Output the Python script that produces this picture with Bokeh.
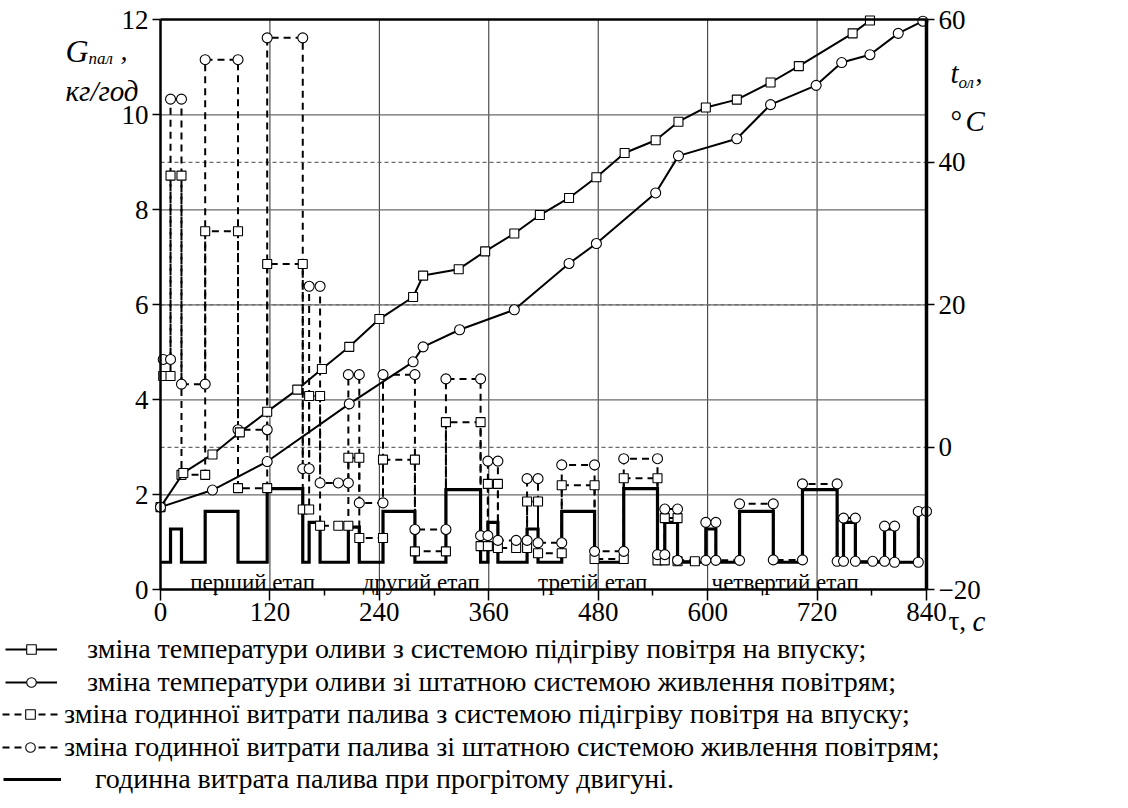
from bokeh.plotting import figure
from bokeh.models import Range1d, LinearAxis, FixedTicker, Legend, LegendItem
from bokeh.core.properties import value
from bokeh.embed import file_html
from bokeh.resources import INLINE

SERIF = "Liberation Serif"

# ---- axes ----
time_ticks = [0, 120, 240, 360, 480, 600, 720, 840]
time_minor = [60, 180, 300, 420, 540, 660, 780]
fuel_ticks = [0, 2, 4, 6, 8, 10, 12]
temp_ticks = [-20, 0, 20, 40, 60]

# ---- oil temperature, °C ----
# with intake-air heating system (squares)
heat_temp_time = [0, 25, 57, 87, 117, 150, 177, 207, 240, 277, 288, 327, 356, 388,
                  416, 448, 478, 509, 543, 568, 598, 632, 669, 700, 759, 778]
heat_temp_val = [-8.4, -3.6, -1.0, 2.1, 5.0, 8.1, 11.0, 14.1, 18.0, 21.1, 24.1, 25.0,
                 27.5, 30.0, 32.6, 35.0, 37.9, 41.3, 43.1, 45.7, 47.7, 48.8, 51.2,
                 53.5, 58.1, 59.9]
# with the standard air supply system (circles)
std_temp_time = [0, 57, 117, 207, 277, 288, 328, 388, 448, 478, 543, 568, 632, 669,
                 719, 747, 778, 809, 836]
std_temp_val = [-8.4, -6.0, -2.0, 6.1, 12.0, 14.1, 16.5, 19.3, 25.8, 28.6, 35.7, 40.9,
                43.3, 48.1, 50.8, 54.0, 55.1, 58.1, 59.8]

# ---- hourly fuel consumption, kg/h ----
# boundaries of the load-cycle phases, s
phase_edges = [0, 11, 23, 49, 85, 117, 156, 163, 175, 206, 218, 244, 279, 313, 351,
               359, 370, 402, 414, 440, 476, 508, 545, 553, 567, 598, 609, 635, 672,
               704, 742, 749, 762, 794, 805, 831, 840]
# warmed-up engine
warm_fuel = [0.58, 1.28, 0.58, 1.65, 0.58, 2.13, 0.58, 1.42, 0.58, 1.32, 0.58, 1.65,
             0.58, 2.11, 0.58, 1.42, 0.58, 1.28, 0.58, 1.65, 0.58, 2.13, 0.58, 1.42,
             0.58, 1.28, 0.58, 1.65, 0.58, 2.11, 0.58, 1.42, 0.58, 1.28, 0.58, 1.65]
# with intake-air heating system
heat_fuel = [4.50, 8.72, 2.42, 7.55, 2.14, 6.86, 1.69, 4.08, 1.35, 2.78, 1.09, 2.74,
             0.81, 3.53, 0.92, 2.23, 0.88, 1.86, 0.77, 2.20, 0.65, 2.35, 0.62, 1.51,
             0.60]
heat_fuel_first = 3
heat_fuel_last = 586
# with the standard air supply system
std_fuel = [4.85, 10.33, 4.33, 11.16, 3.37, 11.62, 2.55, 6.39, 2.25, 4.53, 1.83, 4.53,
            1.27, 4.44, 1.14, 2.71, 1.04, 2.34, 0.99, 2.63, 0.81, 2.76, 0.74, 1.70,
            0.62, 1.42, 0.62, 1.81, 0.63, 2.23, 0.60, 1.51, 0.60, 1.34, 0.58, 1.65]
std_fuel_first = 3
# intermediate readings inside long idle phases
heat_mid_time = [195, 390]
heat_mid_fuel = [1.35, 0.88]
std_mid_time = [195, 390, 781]
std_mid_fuel = [2.25, 1.04, 0.60]

stage_names = ["перший етап", "другий етап", "третій етап", "четвертий етап"]
stage_centres = [101, 286, 474, 685]

legend_labels = [
    "зміна температури оливи з системою підігріву повітря на впуску;",
    "зміна температури оливи зі штатною системою живлення повітрям;",
    "зміна годинної витрати палива з системою підігріву повітря на впуску;",
    "зміна годинної витрати палива зі штатною системою живлення повітрям;",
    "годинна витрата палива при прогрітому двигуні.",
]

# ---- page geometry (pixels) ----
W, H = 1128, 808
FL, FR, FT, FB = 160, 926, 19.3, 589.3          # plotting area inside the page
T_MAX, G_MAX = time_ticks[-1], fuel_ticks[-1]
T_LO, T_HI = temp_ticks[0], temp_ticks[-1]
kx = (FR - FL) / T_MAX
ky = (FB - FT) / G_MAX
x_lo, x_hi = -FL / kx, T_MAX + (W - FR) / kx
y_lo, y_hi = -(H - FB) / ky, G_MAX + FT / ky
g2t = (T_HI - T_LO) / G_MAX


def at(px, py):
    """Page pixel position -> (time, fuel) coordinates."""
    return (px - FL) / kx, (FB - py) / ky


def step_path(edges, levels, first=None, last=None):
    """Vertices of a piecewise-constant series: one horizontal run per phase."""
    xs, ys = [], []
    for i, lv in enumerate(levels):
        x0, x1 = edges[i], edges[i + 1]
        if i == 0 and first is not None:
            x0 = first
        if last is not None:
            x1 = min(x1, last)
        xs += [x0, x1]
        ys += [lv, lv]
    return xs, ys


p = figure(width=W, height=H, output_backend="svg", toolbar_location=None, title=None,
           x_range=Range1d(x_lo, x_hi), y_range=Range1d(y_lo, y_hi),
           x_axis_location=None, y_axis_location=None,
           min_border=0, background_fill_color="white", border_fill_color="white")
p.extra_y_ranges = {"temp": Range1d(T_LO + y_lo * g2t, T_LO + y_hi * g2t)}
p.outline_line_color = None
p.grid.visible = False

# grid lines
p.segment(x0=time_ticks[1:-1], y0=0, x1=time_ticks[1:-1], y1=G_MAX,
          line_color="#2a2a2a", line_width=1)
p.segment(x0=0, y0=fuel_ticks[1:-1], x1=T_MAX, y1=fuel_ticks[1:-1],
          line_color="#6a6a6a", line_width=1.2)
p.segment(x0=0, y0=temp_ticks[1:-1], x1=T_MAX, y1=temp_ticks[1:-1], y_range_name="temp",
          line_color="#6a6a6a", line_width=1.2, line_dash="4 3")

# axes drawn at fixed positions of the plotting area
xa = LinearAxis(fixed_location=0, bounds=(0, T_MAX),
                ticker=FixedTicker(ticks=time_ticks, minor_ticks=time_minor))
ya = LinearAxis(fixed_location=0, bounds=(0, G_MAX), ticker=FixedTicker(ticks=fuel_ticks))
ra = LinearAxis(fixed_location=T_MAX, bounds=(T_LO, T_HI), y_range_name="temp",
                ticker=FixedTicker(ticks=temp_ticks))
ta = LinearAxis(fixed_location=G_MAX, bounds=(0, T_MAX), ticker=FixedTicker(ticks=[]),
                major_label_text_font_size="0px")
p.add_layout(xa, "below")
p.add_layout(ya, "left")
p.add_layout(ra, "right")
p.add_layout(ta, "above")
for ax in (xa, ya, ra, ta):
    ax.axis_line_color = "black"
    ax.axis_line_width = 2.5
    ax.major_tick_line_color = "black"
    ax.major_tick_line_width = 1.5
    ax.major_tick_in = 0
    ax.major_tick_out = 8
    ax.minor_tick_line_color = None
    ax.major_label_text_font = SERIF
    ax.major_label_text_font_size = "27px"
    ax.major_label_text_color = "black"
    ax.major_label_standoff = 4
ta.major_tick_line_color = None
ra.axis_line_width = 3.5
xa.major_tick_out = 11
xa.minor_tick_line_color = "black"
xa.minor_tick_line_width = 1.5
xa.minor_tick_in = 0
xa.minor_tick_out = 6
xa.major_label_standoff = 2

# warmed-up engine (thick step line)
wx, wy = step_path(phase_edges, warm_fuel)
r_warm = p.line(wx, wy, line_color="black", line_width=3.2, line_join="miter")

# fuel consumption during warm-up (dashed step lines with markers)
hx, hy = step_path(phase_edges, heat_fuel, heat_fuel_first, heat_fuel_last)
sx, sy = step_path(phase_edges, std_fuel, std_fuel_first)
r_hf_line = p.line(hx, hy, line_color="black", line_width=2, line_dash="7 5")
r_sf_line = p.line(sx, sy, line_color="black", line_width=2, line_dash="7 5")
r_hf_pts = p.scatter(hx + heat_mid_time, hy + heat_mid_fuel, marker="square", size=9,
                     line_color="black", line_width=1.1, fill_color="white")
r_sf_pts = p.scatter(sx + std_mid_time, sy + std_mid_fuel, marker="circle", size=10,
                     line_color="black", line_width=1.1, fill_color="white")

# oil temperature curves
r_ht_line = p.line(heat_temp_time, heat_temp_val, y_range_name="temp",
                   line_color="black", line_width=2)
r_st_line = p.line(std_temp_time, std_temp_val, y_range_name="temp",
                   line_color="black", line_width=2)
r_ht_pts = p.scatter(heat_temp_time, heat_temp_val, y_range_name="temp", marker="square",
                     size=9, line_color="black", line_width=1.1, fill_color="white")
r_st_pts = p.scatter(std_temp_time, std_temp_val, y_range_name="temp", marker="circle",
                     size=10, line_color="black", line_width=1.1, fill_color="white")

# stage captions
p.text(stage_centres, [0.16] * len(stage_centres), text=stage_names,
       text_font=value(SERIF), text_font_size="23px", text_align="center",
       text_baseline="alphabetic", text_color="black")


def lab(px, py, text, size, style="normal"):
    x, y = at(px, py)
    p.text([x], [y], text=[text], text_font=value(SERIF), text_font_size=size,
           text_font_style=style, text_align="left", text_baseline="alphabetic",
           text_color="black")


# left axis title: G_пал, кг/год
lab(65, 50, "G", "32px", "italic")
lab(88, 58, "пал", "17px", "italic")
lab(120, 50, ",", "28px", "italic")
lab(65, 90, "кг/год", "29px", "italic")
# right axis title: t_ол, °C
lab(950, 72, "t", "29px", "italic")
lab(958, 82, "ол", "17px", "italic")
lab(975, 72, ",", "28px")
lab(950, 120, "°", "29px")
lab(965, 120, "C", "29px", "italic")
# time axis title
lab(948, 620, "τ,", "27px")
lab(972, 620, "c", "29px", "italic")

# legend rows below the plotting area: (renderers, key left px, key width, gap, row centre px)
ROW_H = 30
KEY_H = 24
legend_rows = [
    ([r_ht_line, r_ht_pts], 5, 52, 30, 650),
    ([r_st_line, r_st_pts], 5, 52, 30, 682.5),
    ([r_hf_line, r_hf_pts], 2, 56, 6, 715),
    ([r_sf_line, r_sf_pts], 2, 56, 6, 747.5),
    ([r_warm], 3, 58, 34, 780),
]
for label, (rends, kx0, kw, gap, cy) in zip(legend_labels, legend_rows):
    p.add_layout(Legend(
        items=[LegendItem(label=label, renderers=rends)],
        location=(kx0, H - cy - ROW_H / 2), orientation="vertical",
        border_line_color=None, background_fill_alpha=0,
        label_text_font=SERIF, label_text_font_size="28px", label_text_color="black",
        glyph_width=kw, glyph_height=KEY_H, label_height=ROW_H, label_standoff=gap,
        padding=0, margin=0, spacing=0))

open("out.html", "w").write(file_html(p, INLINE))
